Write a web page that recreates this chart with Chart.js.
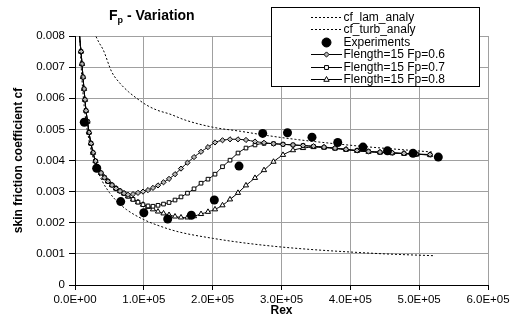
<!DOCTYPE html>
<html>
<head>
<meta charset="utf-8">
<script src="https://cdn.jsdelivr.net/npm/chart.js@4"></script>
<style>
  body { margin: 0; background: #fff; }
  #wrap { width: 516px; height: 320px; }
</style>
</head>
<body>
<div id="wrap"><canvas id="cfChart" width="516" height="320"></canvas></div>
<script>
// x positions of the simulation points (Rex)
var rexGrid = [5800, 8700, 10200, 11600, 13100, 14500, 16000, 18200, 20300, 23200, 26200, 29800, 33400, 37800, 42900, 47900,
  53800, 59600, 65400, 71200, 77000, 84300, 91500, 98800, 106100, 113300, 120600, 128600, 136600, 145300, 154000, 163400,
  172900, 183100, 193200, 203400, 214300, 225200, 236800, 248400, 261500, 274600, 288400, 302200, 316700, 331300, 346500,
  361800, 377800, 393700, 409700, 426400, 443100, 460600, 478000, 496200, 515800];

// Flength=15, Fp=0.6 / 0.7 / 0.8
var fp06 = [0.0082, 0.0075, 0.0071, 0.00668, 0.0063, 0.00595, 0.0056, 0.00525, 0.0049, 0.00455, 0.00425, 0.00398, 0.00378,
  0.0036, 0.00345, 0.00333, 0.00321, 0.0031, 0.00302, 0.00295, 0.0029, 0.00292, 0.00296, 0.003, 0.00305, 0.00312, 0.0032,
  0.0033, 0.00341, 0.00356, 0.00374, 0.00393, 0.00411, 0.00428, 0.00443, 0.00458, 0.00465, 0.00468, 0.00468, 0.00466,
  0.00461, 0.00457, 0.00454, 0.00452, 0.0045, 0.00448, 0.00446, 0.00443, 0.0044, 0.00436, 0.00432, 0.00429, 0.00427,
  0.00425, 0.00423, 0.00421, 0.00419];
var fp07 = [0.0082, 0.0075, 0.0071, 0.00668, 0.0063, 0.00595, 0.0056, 0.00525, 0.0049, 0.00455, 0.00425, 0.00398, 0.00378,
  0.0036, 0.00345, 0.00333, 0.00321, 0.0031, 0.00302, 0.00294, 0.00285, 0.00275, 0.00266, 0.00258, 0.00254, 0.00253,
  0.00256, 0.0026, 0.00265, 0.00273, 0.00283, 0.00295, 0.00309, 0.00327, 0.0034, 0.00356, 0.0038, 0.00401, 0.00424, 0.0044,
  0.0045, 0.00455, 0.00454, 0.00452, 0.0045, 0.00448, 0.00445, 0.00442, 0.00439, 0.00435, 0.00432, 0.00429, 0.00426,
  0.00424, 0.00422, 0.0042, 0.00418];
var fp08 = [0.0082, 0.0075, 0.0071, 0.00668, 0.0063, 0.00595, 0.0056, 0.00525, 0.0049, 0.00455, 0.00425, 0.00398, 0.00378,
  0.0036, 0.00345, 0.00333, 0.00321, 0.0031, 0.00302, 0.00294, 0.00285, 0.00275, 0.00266, 0.00258, 0.00251, 0.00243,
  0.00236, 0.0023, 0.00225, 0.0022, 0.00217, 0.00217, 0.00221, 0.00228, 0.00235, 0.00243, 0.00256, 0.00275, 0.00296,
  0.0032, 0.00344, 0.00369, 0.00396, 0.00418, 0.00433, 0.0044, 0.00443, 0.00442, 0.00439, 0.00435, 0.00431, 0.00428,
  0.00426, 0.00424, 0.00422, 0.0042, 0.00418];

// experiments
var expRex = [13500, 31500, 66400, 100000, 134700, 169000, 202400, 238300, 272700, 308700, 344300, 381700, 418400, 454000, 491100, 527800];
var expCf = [0.00523, 0.00375, 0.00268, 0.00232, 0.00212, 0.00224, 0.00273, 0.00382, 0.00487, 0.00489, 0.00475, 0.00458, 0.00443, 0.00431, 0.00423, 0.00411];

// analytic curves
var lamRex = [6900, 8000, 10000, 12500, 15000, 20000, 25000, 30000, 40000, 50000, 60000, 75000, 100000, 125000, 150000,
  200000, 250000, 300000, 350000, 400000, 450000, 523000];
var lamCf = [0.00799, 0.00742, 0.00664, 0.00594, 0.00542, 0.0047, 0.0042, 0.00383, 0.00332, 0.00297, 0.00271, 0.00242,
  0.0021, 0.00188, 0.00171, 0.0015, 0.00134, 0.00122, 0.00113, 0.00106, 0.001, 0.00094];
var turbRex = [28000, 34600, 41100, 53300, 65400, 77600, 89600, 104000, 119000, 138000, 160000, 200000, 240000, 280000,
  320000, 360000, 400000, 440000, 480000, 520000];
var turbCf = [0.0081, 0.0078, 0.00755, 0.00685, 0.00648, 0.00621, 0.006, 0.00578, 0.00562, 0.00549, 0.0053, 0.00507,
  0.00494, 0.0048, 0.00468, 0.00458, 0.00449, 0.00441, 0.00434, 0.00427];

var xTickLabels = ['0.0E+00', '1.0E+05', '2.0E+05', '3.0E+05', '4.0E+05', '5.0E+05', '6.0E+05'];
var yTickLabels = ['0', '0.001', '0.002', '0.003', '0.004', '0.005', '0.006', '0.007', '0.008'];

function pairs(xs, ys) {
  return xs.map(function (x, i) { return { x: x, y: ys[i] }; });
}

var FONT = "'Liberation Sans', Arial, sans-serif";

function marker(ctx, style, r, x, y, fill) {
  ctx.beginPath();
  if (style === 'circle') {
    ctx.arc(x, y, r, 0, Math.PI * 2);
  } else if (style === 'rectRot') {
    ctx.moveTo(x, y - r); ctx.lineTo(x + r, y); ctx.lineTo(x, y + r); ctx.lineTo(x - r, y); ctx.closePath();
  } else if (style === 'rect') {
    ctx.rect(x - r * 0.75, y - r * 0.75, r * 1.5, r * 1.5);
  } else if (style === 'triangle') {
    ctx.moveTo(x, y - r); ctx.lineTo(x + r * 0.9, y + r * 0.6); ctx.lineTo(x - r * 0.9, y + r * 0.6); ctx.closePath();
  }
  ctx.fillStyle = fill;
  ctx.fill();
  ctx.stroke();
}

// title with subscript + boxed legend on top of the plot
var decorPlugin = {
  id: 'decor',
  afterDraw: function (chart) {
    var ctx = chart.ctx;
    ctx.save();
    // title
    ctx.fillStyle = '#000';
    ctx.textBaseline = 'alphabetic';
    ctx.textAlign = 'left';
    var x = 109;
    ctx.font = 'bold 14px ' + FONT;
    ctx.fillText('F', x, 20);
    x += ctx.measureText('F').width;
    ctx.font = 'bold 9px ' + FONT;
    ctx.fillText('p', x, 23);
    x += ctx.measureText('p').width;
    ctx.font = 'bold 14px ' + FONT;
    ctx.fillText(' - Variation', x, 20);

    // legend box
    ctx.fillStyle = '#fff';
    ctx.strokeStyle = '#000';
    ctx.lineWidth = 1;
    ctx.fillRect(271.5, 7.5, 208, 79);
    ctx.strokeRect(271.5, 7.5, 208, 79);
    ctx.font = '12px ' + FONT;
    ctx.textBaseline = 'middle';
    chart.data.datasets.forEach(function (ds, i) {
      var y = Math.round(16.7 + i * 12.5) + 0.5;
      ctx.strokeStyle = '#000';
      ctx.lineWidth = 1;
      if (ds.showLine) {
        ctx.setLineDash(ds.borderDash || []);
        ctx.beginPath();
        ctx.moveTo(311, y);
        ctx.lineTo(342, y);
        ctx.stroke();
        ctx.setLineDash([]);
      }
      if (ds.pointRadius > 0) {
        marker(ctx, ds.pointStyle, ds.pointRadius, 326.5, y, ds.pointBackgroundColor);
      }
      ctx.fillStyle = '#000';
      ctx.fillText(ds.label, 343.5, y);
    });
    ctx.restore();
  }
};

var lineBase = {
  showLine: true,
  borderColor: '#000',
  borderWidth: 1,
  pointBorderColor: '#000',
  pointBorderWidth: 1,
  pointBackgroundColor: '#fff',
  pointRadius: 2.5,
  tension: 0.3
};

var ctx = document.getElementById('cfChart').getContext('2d');

var cfChart = new Chart(ctx, {
  type: 'scatter',
  data: {
    datasets: [
      {
        label: 'cf_lam_analy', data: pairs(lamRex, lamCf), showLine: true, borderColor: '#000', borderWidth: 1,
        borderDash: [2, 2], pointRadius: 0, cubicInterpolationMode: 'monotone'
      },
      {
        label: 'cf_turb_analy', data: pairs(turbRex, turbCf), showLine: true, borderColor: '#000', borderWidth: 1,
        borderDash: [2, 2], pointRadius: 0, cubicInterpolationMode: 'monotone'
      },
      {
        label: 'Experiments', data: pairs(expRex, expCf), showLine: false, pointStyle: 'circle', pointRadius: 4.5,
        pointBackgroundColor: '#000', pointBorderColor: '#000', pointBorderWidth: 0, order: -1
      },
      Object.assign({}, lineBase, { label: 'Flength=15 Fp=0.6', data: pairs(rexGrid, fp06), pointStyle: 'rectRot', pointRadius: 2.6, pointBackgroundColor: '#b8b8b8' }),
      Object.assign({}, lineBase, { label: 'Flength=15 Fp=0.7', data: pairs(rexGrid, fp07), pointStyle: 'rect', pointRadius: 2.6 }),
      Object.assign({}, lineBase, { label: 'Flength=15 Fp=0.8', data: pairs(rexGrid, fp08), pointStyle: 'triangle', pointRadius: 3 })
    ]
  },
  options: {
    responsive: false,
    animation: false,
    events: [],
    layout: { padding: { left: 0, top: 36, right: 28, bottom: 0 } },
    plugins: {
      legend: { display: false },
      title: { display: false },
      tooltip: { enabled: false }
    },
    scales: {
      x: {
        type: 'linear',
        min: 0,
        max: 600000,
        afterFit: function (scale) { scale.height = 35; },
        afterBuildTicks: function (scale) {
          scale.ticks = xTickLabels.map(function (t, i) { return { value: i * 100000 }; });
        },
        ticks: {
          color: '#000',
          font: { family: FONT, size: 11.5 },
          padding: 3,
          maxRotation: 0,
          callback: function (v, i) { return xTickLabels[i]; }
        },
        grid: { color: '#a0a0a0', tickColor: '#000', tickLength: 5 },
        border: { color: '#000', width: 1 },
        title: {
          display: true, text: 'Rex', color: '#000',
          font: { family: FONT, size: 12, weight: 'bold' },
          padding: { top: 0, bottom: 2 }
        }
      },
      y: {
        type: 'linear',
        min: 0,
        max: 0.008,
        afterFit: function (scale) { scale.width = 75; },
        afterBuildTicks: function (scale) {
          scale.ticks = yTickLabels.map(function (t, i) { return { value: i * 0.001 }; });
        },
        ticks: {
          color: '#000',
          font: { family: FONT, size: 11.5 },
          padding: 4,
          callback: function (v, i) { return yTickLabels[i]; }
        },
        grid: { color: '#a0a0a0', tickColor: '#000', tickLength: 6 },
        border: { color: '#000', width: 1 },
        title: {
          display: true, text: 'skin friction coefficient cf', color: '#000',
          font: { family: FONT, size: 12, weight: 'bold' },
          padding: { top: 11, bottom: 0 }
        }
      }
    }
  },
  plugins: [decorPlugin]
});
</script>
</body>
</html>
